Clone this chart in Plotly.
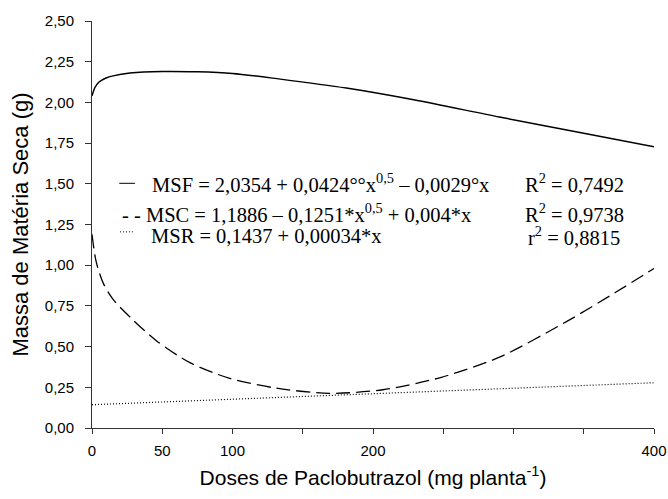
import plotly.graph_objects as go

# --- data ---
msf_x = [0, 2, 5, 10, 15, 27, 50, 75, 100, 134, 181, 229, 290, 350, 400]
msf_y = [2.04, 2.09, 2.125, 2.15, 2.163, 2.18, 2.19, 2.188, 2.178, 2.143, 2.088, 2.016, 1.91, 1.81, 1.727]

msc_x = [0, 3, 8, 15, 29, 46, 70, 98, 131, 169, 207, 248, 290, 338, 373, 400]
msc_y = [1.19, 1.02, 0.89, 0.79, 0.665, 0.535, 0.40, 0.305, 0.245, 0.213, 0.235, 0.31, 0.435, 0.655, 0.835, 0.98]

msr_x = [0, 400]
msr_y = [0.143, 0.278]

x_tickvals = [0, 50, 100, 150, 200, 250, 300, 350, 400]
x_ticktext = ["0", "50", "100", "", "200", "", "", "", "400"]
y_tickvals = [0, 0.25, 0.5, 0.75, 1.0, 1.25, 1.5, 1.75, 2.0, 2.25, 2.5]
y_ticktext = ["0,00", "0,25", "0,50", "0,75", "1,00", "1,25", "1,50", "1,75", "2,00", "2,25", "2,50"]

eq_labels = [
    "MSF = 2,0354 + 0,0424°°x<sup>0,5</sup> – 0,0029°x",
    "- - MSC = 1,1886 – 0,1251*x<sup>0,5</sup> + 0,004*x",
    "MSR = 0,1437 + 0,00034*x",
]
r2_labels = ["R<sup>2</sup> = 0,7492", "R<sup>2</sup> = 0,9738", "r<sup>2</sup> = 0,8815"]

fig = go.Figure()
fig.add_trace(go.Scatter(x=msf_x, y=msf_y, mode="lines", line=dict(color="black", width=1.5, shape="spline", smoothing=0.8), showlegend=False))
fig.add_trace(go.Scatter(x=msc_x, y=msc_y, mode="lines", line=dict(color="black", width=1.3, dash="14px,6px", shape="spline", smoothing=0.8), showlegend=False))
fig.add_trace(go.Scatter(x=msr_x, y=msr_y, mode="lines", line=dict(color="black", width=1.2, dash="1px,2px"), showlegend=False))

serif = dict(family="Liberation Serif", size=20.5, color="black")
# legend text rows
eq_pos = [(41.5, 1.505), (19.6, 1.322), (40.8, 1.178)]
for (ex, ey), t in zip(eq_pos, eq_labels):
    fig.add_annotation(x=ex, y=ey, xref="x", yref="y", text=t, showarrow=False,
                       xanchor="left", yanchor="middle", font=serif)
r2_pos = [(306.5, 1.505), (306.5, 1.322), (308.9, 1.182)]
for (rx, ry), t in zip(r2_pos, r2_labels):
    fig.add_annotation(x=rx, y=ry, xref="x", yref="y", text=t, showarrow=False,
                       xanchor="left", yanchor="middle", font=serif)
# legend line samples
fig.add_shape(type="line", x0=19.4, x1=30.6, y0=1.503, y1=1.503, xref="x", yref="y",
              line=dict(color="black", width=1))
fig.add_shape(type="line", x0=19.9, x1=29.2, y0=1.205, y1=1.205, xref="x", yref="y",
              line=dict(color="black", width=1, dash="1px,2px"))

axis_font = dict(family="Liberation Sans", size=15, color="black")
fig.update_xaxes(range=[0, 400], tickvals=x_tickvals, ticktext=x_ticktext,
                 ticks="outside", ticklen=5, tickwidth=1, tickcolor="#333",
                 showline=True, linecolor="#333", linewidth=1, showgrid=False, zeroline=False,
                 tickfont=axis_font, ticklabelstandoff=4, automargin=False,
                 title=dict(text="Doses de Paclobutrazol (mg planta<sup>-1</sup>)",
                            font=dict(family="Liberation Sans", size=21, color="black"), standoff=12))
fig.update_yaxes(range=[0, 2.5], tickvals=y_tickvals, ticktext=y_ticktext,
                 ticks="outside", ticklen=6, tickwidth=1, tickcolor="#333",
                 showline=True, linecolor="#333", linewidth=1, showgrid=False, zeroline=False,
                 tickfont=axis_font, ticklabelstandoff=8, automargin=False,
                 title=dict(text="Massa de Matéria Seca (g)",
                            font=dict(family="Liberation Sans", size=22, color="black"), standoff=10))

fig.update_layout(width=668, height=499, margin=dict(l=92, r=14, t=21, b=71, autoexpand=False),
                  plot_bgcolor="white", paper_bgcolor="white", showlegend=False)

fig.write_html("out.html")
